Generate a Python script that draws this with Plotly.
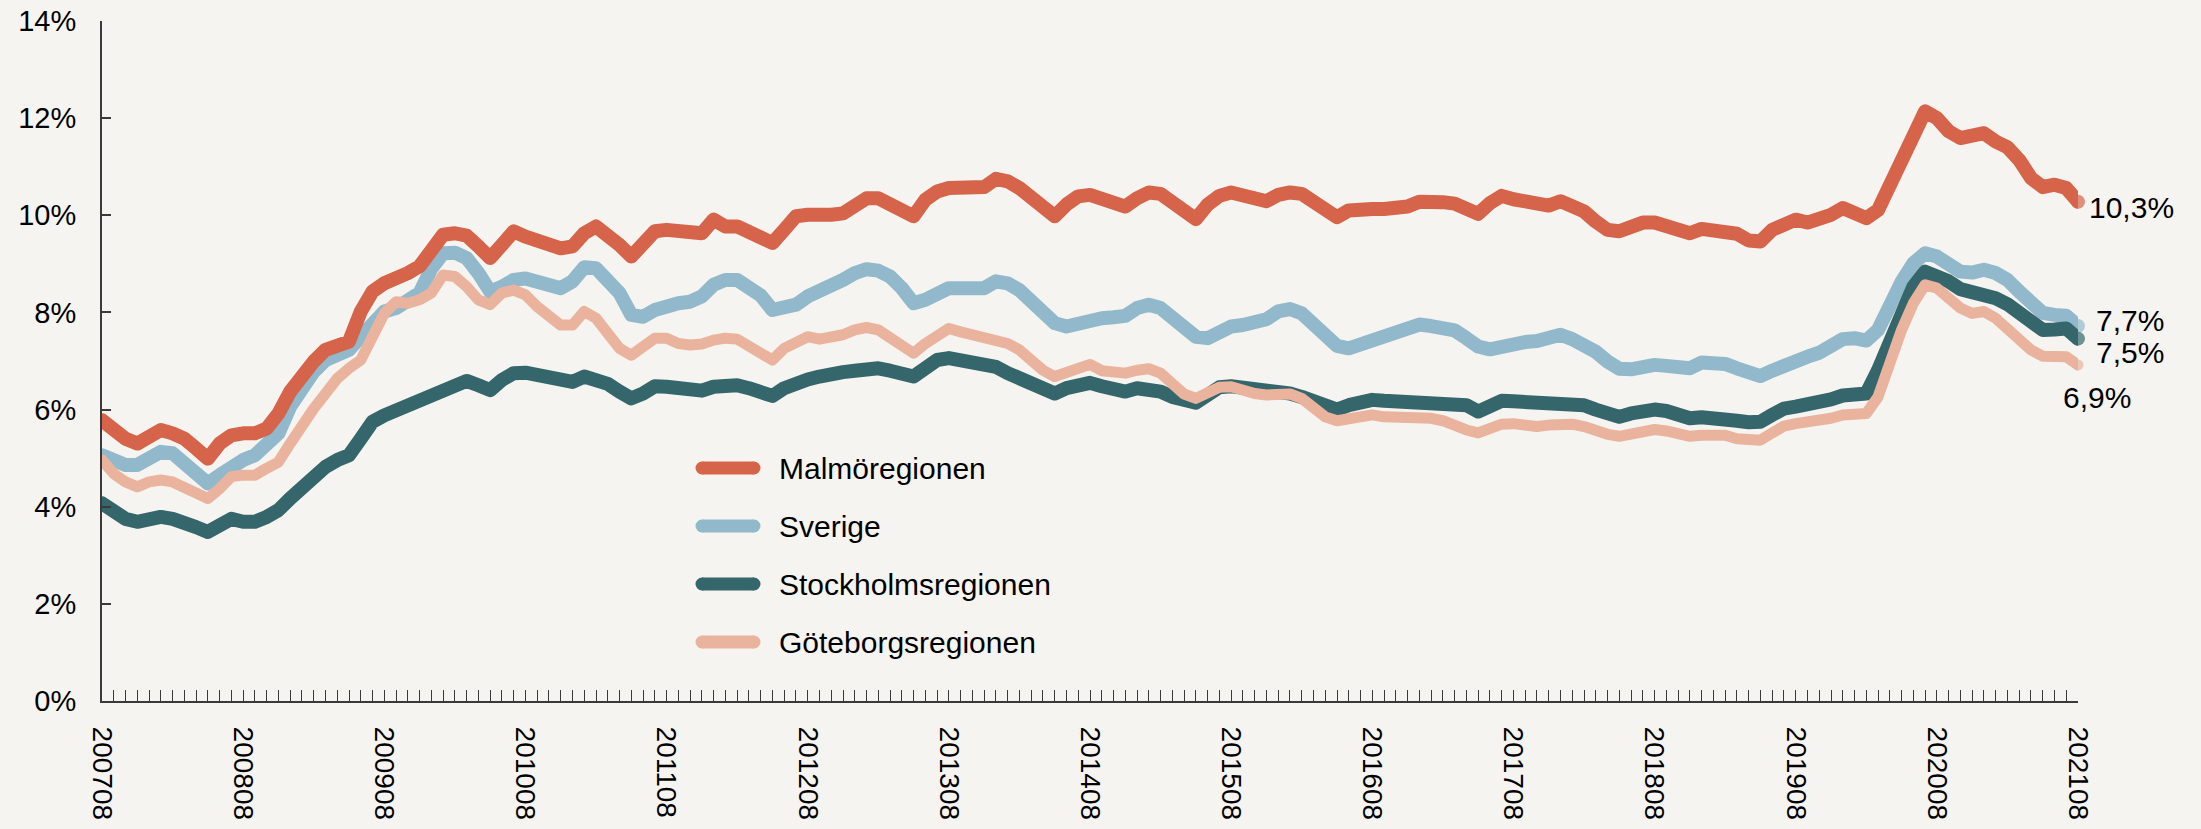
import plotly.graph_objects as go

# ---------------- data ----------------
series_names = ["Malmöregionen", "Sverige", "Stockholmsregionen", "Göteborgsregionen"]

tick_labels = ["200708", "200808", "200908", "201008", "201108", "201208", "201308",
               "201408", "201508", "201608", "201708", "201808", "201908", "202008", "202108"]

y_tick_values = [0, 2, 4, 6, 8, 10, 12, 14]
y_tick_labels = ["0%", "2%", "4%", "6%", "8%", "10%", "12%", "14%"]

malmo = [
    5.78, 5.58, 5.40, 5.30, 5.47, 5.58, 5.51, 5.40, 5.20, 4.99, 5.30, 5.47, 5.51, 5.51, 5.61, 5.92,
    6.37, 6.71, 6.99, 7.23, 7.33, 7.40, 8.02, 8.43, 8.60, 8.67, 8.81, 8.95, 9.25,
    9.60, 9.63, 9.58, 9.36, 9.12, 9.39, 9.67, 9.56, 9.46, 9.43, 9.32, 9.36, 9.63, 9.77, 9.60, 9.39,
    9.15, 9.43, 9.67, 9.70, 9.67, 9.60, 9.63, 9.91, 9.77, 9.77, 9.67, 9.56,
    9.43, 9.70, 9.98, 10.01, 9.99, 10.01, 10.04, 10.22, 10.35, 10.35, 10.25, 10.11, 9.98, 10.32,
    10.49, 10.56, 10.56, 10.56, 10.58, 10.75, 10.70, 10.56, 10.35, 10.15, 9.98, 10.22, 10.39, 10.42,
    10.35, 10.25, 10.18, 10.35, 10.47, 10.44, 10.29, 10.11, 9.92, 10.22, 10.40, 10.47, 10.42, 10.35,
    10.29, 10.42, 10.47, 10.44, 10.25, 10.08, 9.96, 10.10, 10.15, 10.13, 10.13, 10.13, 10.18, 10.28,
    10.24, 10.27, 10.24, 10.13, 10.03, 10.25, 10.40, 10.33, 10.29, 10.24, 10.20, 10.29, 10.20, 10.08,
    9.87, 9.70, 9.67, 9.77, 9.85, 9.85, 9.78, 9.70, 9.63, 9.72, 9.67, 9.67, 9.62, 9.48,
    9.46, 9.70, 9.84, 9.91, 9.85, 9.91, 10.01, 10.15, 10.08, 9.94, 10.11, 10.63, 11.11, 11.76,
    12.14, 12.00, 11.73, 11.59, 11.61, 11.69, 11.52, 11.40, 11.14, 10.77, 10.58, 10.63, 10.56, 10.28,
]

sverige = [
    5.06, 4.92, 4.86, 4.86, 5.03, 5.13, 5.10, 4.92, 4.68, 4.48, 4.65, 4.82, 4.96, 5.06, 5.27, 5.51,
    6.06, 6.47, 6.78, 7.02, 7.16, 7.23, 7.50, 7.78, 8.02, 8.09, 8.26, 8.40, 8.90,
    9.22, 9.23, 9.12, 8.81, 8.43, 8.53, 8.67, 8.70, 8.64, 8.53, 8.50, 8.64, 8.93, 8.91, 8.67, 8.40,
    7.95, 7.91, 8.05, 8.15, 8.19, 8.22, 8.33, 8.57, 8.67, 8.67, 8.53, 8.35,
    8.05, 8.09, 8.16, 8.33, 8.43, 8.53, 8.67, 8.81, 8.89, 8.86, 8.74, 8.50, 8.19, 8.26,
    8.40, 8.50, 8.50, 8.50, 8.50, 8.64, 8.60, 8.46, 8.26, 8.02, 7.78, 7.71, 7.78, 7.85,
    7.88, 7.90, 7.93, 8.09, 8.16, 8.09, 7.88, 7.67, 7.50, 7.47, 7.58, 7.71, 7.74, 7.79,
    7.86, 8.02, 8.07, 7.98, 7.78, 7.54, 7.31, 7.26, 7.33, 7.43, 7.49, 7.54, 7.63, 7.75,
    7.72, 7.71, 7.63, 7.47, 7.30, 7.24, 7.31, 7.36, 7.39, 7.41, 7.45, 7.54, 7.45, 7.35,
    7.19, 6.99, 6.84, 6.83, 6.88, 6.92, 6.90, 6.87, 6.85, 6.97, 6.97, 6.94, 6.85, 6.76,
    6.69, 6.80, 6.92, 7.02, 7.09, 7.17, 7.30, 7.45, 7.47, 7.42, 7.64, 8.22, 8.63, 9.01,
    9.22, 9.15, 8.98, 8.84, 8.82, 8.88, 8.81, 8.67, 8.43, 8.19, 7.99, 7.95, 7.93, 7.72,
]

stockholm = [
    4.07, 3.89, 3.75, 3.69, 3.75, 3.79, 3.75, 3.69, 3.58, 3.48, 3.62, 3.75, 3.69, 3.69, 3.79, 3.93,
    4.17, 4.41, 4.62, 4.82, 4.96, 5.06, 5.40, 5.75, 5.88, 5.99, 6.09, 6.16, 6.25,
    6.40, 6.54, 6.59, 6.50, 6.40, 6.61, 6.75, 6.76, 6.71, 6.62, 6.55, 6.57, 6.68, 6.62, 6.53, 6.37,
    6.23, 6.33, 6.48, 6.47, 6.44, 6.40, 6.39, 6.47, 6.50, 6.50, 6.44, 6.36,
    6.28, 6.44, 6.55, 6.62, 6.68, 6.75, 6.77, 6.80, 6.83, 6.85, 6.80, 6.71, 6.68, 6.85,
    7.02, 7.06, 7.02, 6.95, 6.88, 6.88, 6.75, 6.64, 6.54, 6.44, 6.33, 6.44, 6.53, 6.55,
    6.48, 6.44, 6.37, 6.44, 6.42, 6.37, 6.26, 6.20, 6.14, 6.30, 6.46, 6.48, 6.46, 6.40,
    6.37, 6.36, 6.33, 6.26, 6.16, 6.06, 6.00, 6.09, 6.18, 6.20, 6.18, 6.16, 6.14, 6.12,
    6.14, 6.14, 6.13, 6.09, 5.96, 6.06, 6.18, 6.17, 6.16, 6.14, 6.13, 6.17, 6.13, 6.09,
    6.00, 5.92, 5.85, 5.92, 5.99, 6.00, 5.97, 5.89, 5.82, 5.84, 5.84, 5.82, 5.77, 5.74,
    5.75, 5.89, 6.02, 6.06, 6.09, 6.14, 6.21, 6.29, 6.28, 6.33, 6.81, 7.43, 8.05, 8.53,
    8.84, 8.77, 8.64, 8.48, 8.41, 8.40, 8.29, 8.17, 7.98, 7.79, 7.64, 7.65, 7.67, 7.46,
]

goteborg = [
    4.96, 4.68, 4.51, 4.41, 4.51, 4.55, 4.51, 4.41, 4.27, 4.17, 4.37, 4.62, 4.65, 4.65, 4.79, 4.92,
    5.30, 5.71, 6.02, 6.33, 6.64, 6.85, 7.02, 7.50, 7.98, 8.22, 8.19, 8.26, 8.40,
    8.77, 8.74, 8.53, 8.26, 8.16, 8.40, 8.46, 8.36, 8.12, 7.95, 7.74, 7.74, 8.02, 7.88, 7.54, 7.26,
    7.12, 7.33, 7.47, 7.47, 7.36, 7.33, 7.35, 7.43, 7.47, 7.45, 7.30, 7.15,
    7.02, 7.26, 7.40, 7.50, 7.45, 7.49, 7.54, 7.64, 7.69, 7.64, 7.50, 7.30, 7.16, 7.36,
    7.54, 7.67, 7.60, 7.54, 7.47, 7.45, 7.36, 7.23, 7.02, 6.81, 6.68, 6.78, 6.88, 6.93,
    6.80, 6.77, 6.75, 6.81, 6.84, 6.75, 6.51, 6.32, 6.23, 6.33, 6.46, 6.47, 6.39, 6.33,
    6.30, 6.32, 6.32, 6.23, 6.02, 5.85, 5.77, 5.82, 5.89, 5.89, 5.85, 5.84, 5.84, 5.85,
    5.82, 5.77, 5.66, 5.58, 5.52, 5.59, 5.70, 5.71, 5.68, 5.65, 5.68, 5.71, 5.70, 5.65,
    5.56, 5.49, 5.45, 5.51, 5.58, 5.59, 5.56, 5.49, 5.45, 5.47, 5.48, 5.47, 5.40, 5.37,
    5.37, 5.52, 5.66, 5.71, 5.73, 5.77, 5.82, 5.89, 5.91, 5.92, 6.26, 6.99, 7.64, 8.19,
    8.57, 8.50, 8.29, 8.09, 7.98, 8.02, 7.88, 7.67, 7.47, 7.23, 7.10, 7.09, 7.09, 6.92,
]

# ---------------- styling ----------------
BG = "#F6F4F0"
AXIS = "#3a3a3a"
FONT = "Liberation Sans, Arial, Helvetica, sans-serif"
colors = {"Malmöregionen": "#D5644B", "Sverige": "#92B9CB",
          "Stockholmsregionen": "#35666B", "Göteborgsregionen": "#EAB39E"}
widths = {"Malmöregionen": 14, "Sverige": 14, "Stockholmsregionen": 14, "Göteborgsregionen": 11}
values = {"Malmöregionen": malmo, "Sverige": sverige,
          "Stockholmsregionen": stockholm, "Göteborgsregionen": goteborg}
label_offsets = {"Malmöregionen": (9, -6), "Sverige": (16, 6),
                 "Stockholmsregionen": (16, -14), "Göteborgsregionen": (-17, -33)}

n = len(malmo)
x = list(range(n))
label_at = {i * 12: t for i, t in enumerate(tick_labels)}
ticktext = [label_at.get(i, "") for i in x]

fig = go.Figure()

draw_order = ["Sverige", "Stockholmsregionen", "Göteborgsregionen", "Malmöregionen"]
for name in draw_order:
    vals = values[name]
    sizes = [0] * (n - 1) + [widths[name]]
    fig.add_trace(go.Scatter(
        x=x, y=vals, mode="lines+markers", name=name,
        line=dict(color=colors[name], width=widths[name]),
        marker=dict(size=sizes, color=colors[name], line=dict(width=0)),
        cliponaxis=False, hoverinfo="skip",
    ))

for name in series_names:
    v = values[name][-1]
    dx, dy = label_offsets[name]
    fig.add_annotation(
        x=x[-1], y=v, xref="x", yref="y",
        text=f"{v:.1f}".replace(".", ",") + "%",
        showarrow=False, xanchor="left", yanchor="middle",
        xshift=dx, yshift=dy,
        font=dict(size=30, color="#000", family=FONT),
    )

# custom legend
W, H = 2201, 829
ml, mr, mt, mb = 102, 123, 21, 128
pw, ph = W - ml - mr, H - mt - mb

def px_x(X):
    return (X - ml) / pw

def px_y(Y):
    return (H - mb - Y) / ph

legend_rows = [468, 526, 584, 642]
for name, row in zip(series_names, legend_rows):
    c = colors[name]
    lw = 13
    x0, x1 = 702, 754
    fig.add_shape(type="line", xref="paper", yref="paper",
                  x0=px_x(x0), x1=px_x(x1), y0=px_y(row), y1=px_y(row),
                  line=dict(color=c, width=lw), layer="above")
    for cx in (x0, x1):
        fig.add_shape(type="circle", xref="paper", yref="paper",
                      xsizemode="pixel", ysizemode="pixel",
                      xanchor=px_x(cx), yanchor=px_y(row),
                      x0=-lw / 2, x1=lw / 2, y0=-lw / 2, y1=lw / 2,
                      fillcolor=c, line=dict(width=0), layer="above")
    fig.add_annotation(x=px_x(777), y=px_y(row), xref="paper", yref="paper",
                       text=name, showarrow=False, xanchor="left", yanchor="middle",
                       font=dict(size=30, color="#000", family=FONT))

fig.update_layout(
    width=W, height=H,
    margin=dict(l=ml, r=mr, t=mt, b=mb, pad=0, autoexpand=False),
    paper_bgcolor=BG, plot_bgcolor=BG,
    showlegend=False,
    font=dict(family=FONT, color="#000", size=28),
    xaxis=dict(
        range=[0, n - 1], tickmode="array", tickvals=x, ticktext=ticktext,
        ticks="inside", ticklen=11, tickwidth=1.2, tickcolor=AXIS,
        showline=True, linecolor=AXIS, linewidth=2,
        showgrid=False, zeroline=False, tickangle=90,
        tickfont=dict(size=28, family=FONT, color="#000"),
        ticklabelstandoff=18, fixedrange=True, automargin=False,
    ),
    yaxis=dict(
        range=[0, 14], tickmode="array", tickvals=y_tick_values, ticktext=y_tick_labels,
        ticks="inside", ticklen=9, tickwidth=1.5, tickcolor=AXIS,
        showline=True, linecolor=AXIS, linewidth=2,
        showgrid=False, zeroline=False,
        tickfont=dict(size=29, family=FONT, color="#000"),
        ticklabelstandoff=18, fixedrange=True, automargin=False,
    ),
)

post = """
document.documentElement.style.margin='0';
document.body.style.margin='0';
document.body.style.padding='0';
document.body.style.overflow='hidden';
document.body.style.background='%s';
var gd = document.getElementById('{plot_id}');
function rnd(){
  document.querySelectorAll('.scatterlayer path.js-line').forEach(function(p){
    p.style.strokeLinejoin='round'; p.style.strokeLinecap='round';
  });
}
rnd();
if (gd && gd.on) { gd.on('plotly_afterplot', rnd); }
setTimeout(rnd, 50);
""" % BG

fig.write_html("out.html", post_script=post, config={"displayModeBar": False})
